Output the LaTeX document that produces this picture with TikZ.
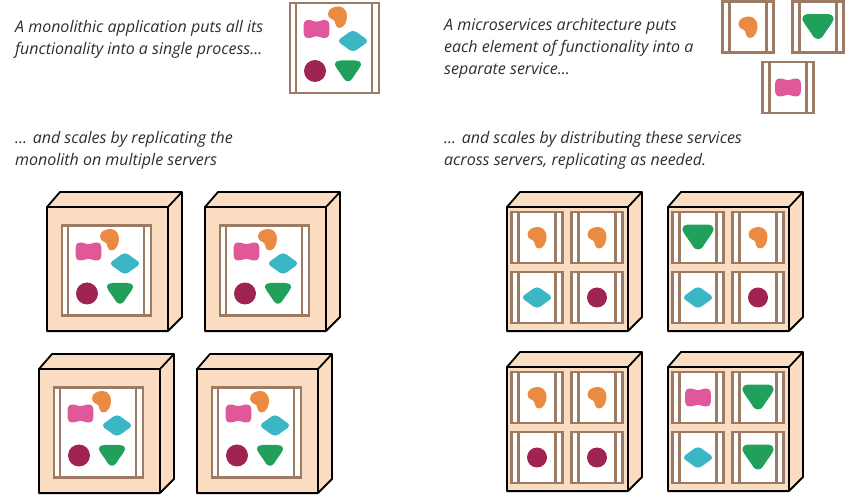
\documentclass[tikz,border=0pt]{standalone}
\usepackage{fontspec}
\setmainfont{Open Sans}
\usepackage{xcolor}
\usetikzlibrary{positioning}
\definecolor{serverpeach}{HTML}{FADCC0}
\definecolor{boxbrown}{HTML}{9C7A64}
\definecolor{blobpink}{HTML}{E0589A}
\definecolor{bloborange}{HTML}{EB8A42}
\definecolor{blobteal}{HTML}{3BB6C4}
\definecolor{blobcrimson}{HTML}{9F2452}
\definecolor{blobgreen}{HTML}{21A05C}
\definecolor{captiongray}{HTML}{2E2E2E}
\def\greenshape{(-13,-5) .. controls (-13,-9) and (-10,-9.5) .. (-7,-9.5) -- (7,-9.5) .. controls (10,-9.5) and (13,-9) .. (13,-5) .. controls (12,-2) and (7,4) .. (4,9) .. controls (2,12) and (-2,12) .. (-4,9) .. controls (-7,4) and (-12,-2) .. (-13,-5) -- cycle}
\tikzset{
  caption/.style={anchor=north west,inner sep=0pt,align=left,text=captiongray,
    font=\fontsize{16}{22}\selectfont\itshape},
  boxline/.style={draw=boxbrown,line width=2.8pt},
  serverline/.style={draw=black,line width=1.8pt,line join=round},
  pinkblob/.pic={\fill[blobpink] (-13,0) .. controls (-13,-5) and (-13,-9) .. (-8,-9) .. controls (-4,-9) and (-3,-7.2) .. (0,-7.2) .. controls (3,-7.2) and (4,-9) .. (8,-9) .. controls (13,-9) and (13,-5) .. (13,0) .. controls (13,5) and (13,9) .. (8,9) .. controls (4,9) and (3,7.2) .. (0,7.2) .. controls (-3,7.2) and (-4,9) .. (-8,9) .. controls (-13,9) and (-13,5) .. (-13,0) -- cycle;},
  orangeblob/.pic={\fill[bloborange] (-9.5,-3) .. controls (-9.5,-8) and (-4,-10.5) .. (1,-10.5) .. controls (6,-10.5) and (9.5,-6) .. (9.5,-1) .. controls (9.5,4) and (7,11) .. (2,11) .. controls (-2,11) and (-2,6) .. (-3,4) .. controls (-4,2) and (-9.5,2) .. (-9.5,-3) -- cycle;},
  tealblob/.pic={\fill[blobteal,rounded corners=4pt] (-16,0)--(0,-11.5)--(16,0)--(0,11.5)--cycle;},
  crimsonblob/.pic={\fill[blobcrimson] (0,0) circle (11);},
  smallcrimsonblob/.pic={\fill[blobcrimson] (0,0) circle (10);},
  greenblob/.pic={\fill[blobgreen] \greenshape;},
  biggreenblob/.pic={\fill[blobgreen,yshift=1.5pt,scale=1.2] \greenshape;},
  % brown frame with its two inner bars
  bigbox/.pic={
    \fill[white] (-44.5,-45) rectangle (44.5,45);
    \draw[boxline] (-38.5,-45)--(-38.5,45);
    \draw[boxline] (37.5,-45)--(37.5,45);
    \draw[boxline] (-44.5,-45) rectangle (44.5,45);
    \pic at (-18,-19) {pinkblob};
    \pic at (3,-31) {orangeblob};
    \pic at (18.5,-7) {tealblob};
    \pic at (-19.5,23) {crimsonblob};
    \pic at (13.5,22) {greenblob};
  },
  smallbox/.pic={
    \fill[white] (-25.5,-25.5) rectangle (25.5,25.5);
    \draw[boxline] (-18.5,-26.5)--(-18.5,25.5);
    \draw[boxline] (18.5,-26.5)--(18.5,25.5);
    \draw[boxline] (-25.5,-25.5) rectangle (25.5,25.5);
    \pic {#1};
  },
  % origin is the top left corner of the front face
  server/.pic={
    \fill[black!25,opacity=.5] (-1,2)--(121,2)--(121,126)--(-1,126)--cycle;
    \fill[serverpeach] (0,0)--(13,-15)--(135,-15)--(135,110)--(121,124)--(0,124)--cycle;
    \draw[serverline] (0,0)--(13,-15)--(135,-15)--(135,110)--(121,124);
    \draw[serverline] (0,0) rectangle (121,124);
    \draw[serverline] (121,0)--(135,-15);
  },
}
\begin{document}
\begin{tikzpicture}[x=1pt,y=-1pt]
  \useasboundingbox (0,0) rectangle (852,502);
  \node[caption] (monotext) at (15,20) {A monolithic application puts all its\\functionality into a single process...};
  \node[caption] (monoscale) at (15,131) {... and scales by replicating the\\monolith on multiple servers};
  \node[caption] (microtext) at (444,18.5) {A microservices architecture puts\\each element of functionality into a\\separate service...};
  \node[caption] (microscale) at (444,131) {... and scales by distributing these services\\across servers, replicating as needed.};
  \pic at (334.5,48) {bigbox};
  \pic at (748,27) {smallbox=orangeblob};
  \pic at (818,27) {smallbox=biggreenblob};
  \pic at (788,87.5) {smallbox=pinkblob};
  % servers holding the monolith
  \foreach \sx/\sy in {47/207,205/207,39/369,197/369}{
    \pic at (\sx,\sy) {server};
    \pic at (\sx+59.5,\sy+63.5) {bigbox};
  }
  % servers holding single services
  \foreach \sx/\sy/\ba/\bb/\bc/\bd in {
    507/207/orangeblob/orangeblob/tealblob/smallcrimsonblob,
    668/207/biggreenblob/orangeblob/tealblob/smallcrimsonblob,
    507/367/orangeblob/orangeblob/smallcrimsonblob/smallcrimsonblob,
    668/367/pinkblob/biggreenblob/tealblob/biggreenblob}{
    \pic at (\sx,\sy) {server};
    \pic at (\sx+30,\sy+30.5) {smallbox=\ba};
    \pic at (\sx+90,\sy+30.5) {smallbox=\bb};
    \pic at (\sx+30,\sy+90.5) {smallbox=\bc};
    \pic at (\sx+90,\sy+90.5) {smallbox=\bd};
  }
\end{tikzpicture}
\end{document}
